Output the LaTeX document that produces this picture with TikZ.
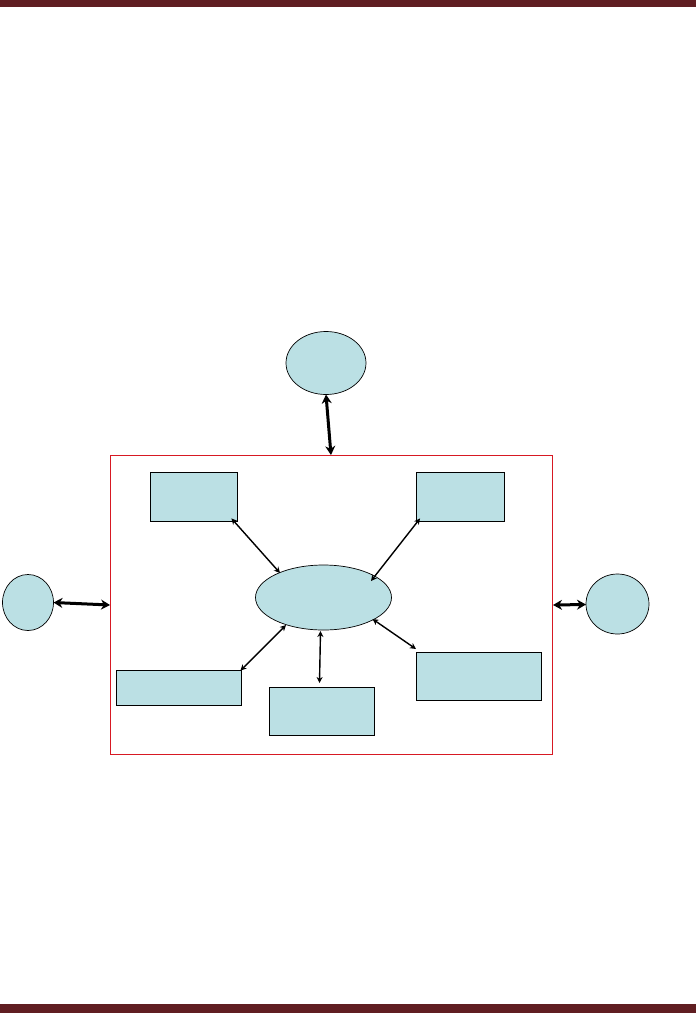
\documentclass[tikz,border=0pt]{standalone}
\usetikzlibrary{arrows.meta}
\definecolor{barcol}{RGB}{96,30,34}
\definecolor{boxfill}{RGB}{187,224,228}
\definecolor{framered}{RGB}{215,25,35}
\tikzset{
  bluebox/.style={draw=black, line width=0.9pt, fill=boxfill},
  blueell/.style={draw=black, line width=0.7pt, fill=boxfill},
  thinarrow/.style={line width=1.4pt, {Stealth[length=6pt,width=6pt]}-{Stealth[length=6pt,width=6pt]}},
  thickarrow/.style={line width=3pt, {Stealth[length=9pt,width=10pt]}-{Stealth[length=9pt,width=10pt]}}
}
\begin{document}
\begin{tikzpicture}[x=1pt,y=-1pt]
\useasboundingbox (0,0) rectangle (696,1013);
% bars
\fill[barcol] (0,0) rectangle (696,7);
\fill[barcol] (0,1004) rectangle (696,1013);
% frame
\draw[framered, line width=1pt] (110.5,455.5) rectangle (552.5,754.5);
\coordinate (ftop) at (331,455);
\coordinate (fleft) at (110,605);
\coordinate (fright) at (553,605);
% ellipses
\draw[blueell] (326,363) ellipse [x radius=40, y radius=31.5];
\coordinate (topE) at (326,394.5);
\draw[blueell] (323.5,597.5) ellipse [x radius=68, y radius=32.5];
\draw[blueell] (28,602.5) ellipse [x radius=25.5, y radius=28];
\coordinate (leftE) at (53.5,602.5);
\draw[blueell] (617.5,604) ellipse [x radius=31.5, y radius=30];
\coordinate (rightE) at (586,604.5);
% boxes
\node[bluebox, minimum width=87pt, minimum height=49pt, inner sep=0pt] (tl) at (193.5,496.5) {};
\node[bluebox, minimum width=88pt, minimum height=49pt, inner sep=0pt] (tr) at (460.5,496.5) {};
\node[bluebox, minimum width=125pt, minimum height=35pt, inner sep=0pt] (bl) at (178.5,687.5) {};
\node[bluebox, minimum width=105pt, minimum height=48pt, inner sep=0pt] (bm) at (322,711) {};
\node[bluebox, minimum width=125pt, minimum height=48pt, inner sep=0pt] (br) at (478.5,676) {};
% ellipse attachment points
\coordinate (c1) at (280,573);
\coordinate (c2) at (371,581);
\coordinate (c3) at (286,625);
\coordinate (c4) at (320.5,631);
\coordinate (c5) at (372.5,619);
\coordinate (bmtop) at (319.5,683);
\coordinate (brpt) at (416,649);
% thin arrows
\draw[thinarrow] (tl.south east) ++(-6,-3) coordinate (t1) (t1) -- (c1);
\draw[thinarrow] (tr.south west) ++(4,-3) coordinate (t2) (t2) -- (c2);
\draw[thinarrow] (bl.north east) ++(-1,1) coordinate (t3) (t3) -- (c3);
\draw[thinarrow] (c4) -- (bmtop);
\draw[thinarrow] (c5) -- (brpt);
% thick arrows
\draw[thickarrow] (topE) -- (ftop);
\draw[thickarrow] (leftE) -- (fleft);
\draw[thickarrow] (fright) -- (rightE);
\end{tikzpicture}
\end{document}
